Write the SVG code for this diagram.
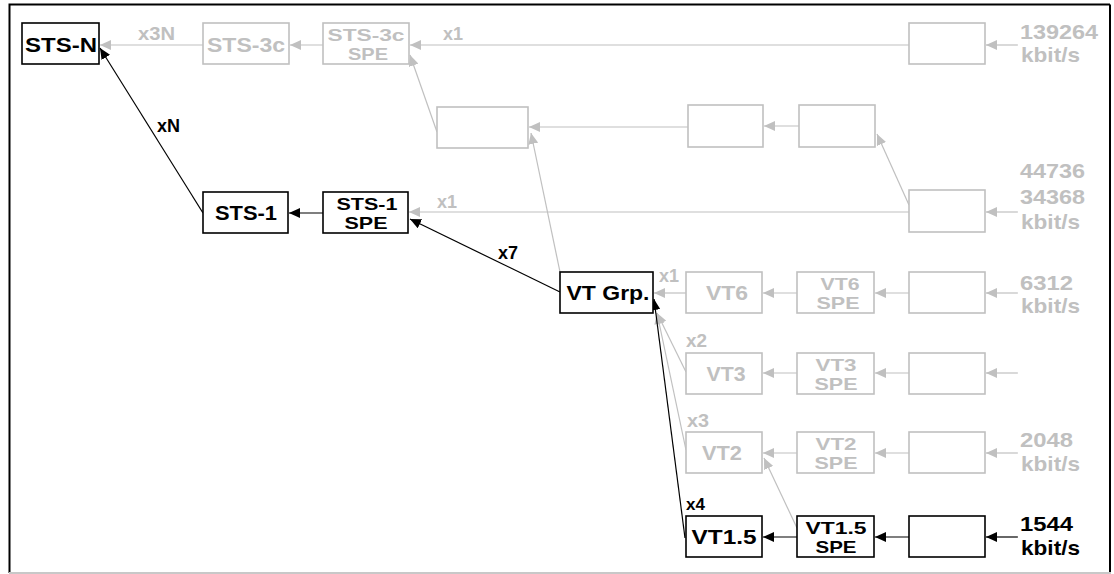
<svg xmlns="http://www.w3.org/2000/svg" width="1114" height="574" viewBox="0 0 1114 574">
<style>
text{font-family:"Liberation Sans",Arial,sans-serif;font-weight:bold}
.bk rect{fill:#fff;stroke:#000;stroke-width:1.6}
.gy rect{fill:#fff;stroke:#c0c0c0;stroke-width:1.6}
.bk text{fill:#000}
.gy text{fill:#c0c0c0}
.n{font-size:21px;text-anchor:middle}
.n2{font-size:16.5px;text-anchor:middle}
.m{font-size:18px}
.r{font-size:21px}
.cg{stroke:#c0c0c0;stroke-width:1.2;fill:none;marker-end:url(#ag)}
.cb{stroke:#000;stroke-width:1.2;fill:none;marker-end:url(#ab)}
</style>
<defs>
<marker id="ag" viewBox="0 0 11 10" refX="11" refY="5" markerWidth="11" markerHeight="10" markerUnits="userSpaceOnUse" orient="auto"><path d="M0,0 L11,5 L0,10 z" fill="#c0c0c0"/></marker>
<marker id="ab" viewBox="0 0 11 10" refX="11" refY="5" markerWidth="11" markerHeight="10" markerUnits="userSpaceOnUse" orient="auto"><path d="M0,0 L11,5 L0,10 z" fill="#000"/></marker>
</defs>
<rect x="0" y="0" width="1114" height="574" fill="#fff"/>
<path d="M9.5,573 V4.5 H1110" fill="none" stroke="#000" stroke-width="2"/>
<path d="M1110,4.5 V573" fill="none" stroke="#000" stroke-width="2"/>
<path d="M9,573 H1111" fill="none" stroke="#c8c8c8" stroke-width="2"/>

<g id="connectors">
<path class="cg" d="M203,45 L100,45"/>
<path class="cg" d="M323,45 L290,45"/>
<path class="cg" d="M909,45 L410,45"/>
<path class="cg" d="M1018,45 L986,45"/>
<path class="cg" d="M799,126 L764,126"/>
<path class="cg" d="M688,127 L529,127"/>
<path class="cg" d="M437,132 L410,55"/>
<path class="cg" d="M909,205 L877,134"/>
<path class="cg" d="M560,272 L531,133"/>
<path class="cg" d="M909,212 L409,212"/>
<path class="cg" d="M1018,212 L986,212"/>
<path class="cg" d="M686,293 L654,293"/>
<path class="cg" d="M797,293 L763,293"/>
<path class="cg" d="M909,293 L875,293"/>
<path class="cg" d="M1018,293 L986,293"/>
<path class="cg" d="M686,372 L657,313"/>
<path class="cg" d="M797,373 L763,373"/>
<path class="cg" d="M909,373 L875,373"/>
<path class="cg" d="M1018,373 L986,373"/>
<path class="cg" d="M686,450 L657,313"/>
<path class="cg" d="M797,453 L763,453"/>
<path class="cg" d="M909,453 L875,453"/>
<path class="cg" d="M1018,453 L986,453"/>
<path class="cg" d="M797,528 L764,458"/>
<path class="cb" d="M203,213 L100,48"/>
<path class="cb" d="M323,213 L289,213"/>
<path class="cb" d="M560,292 L410,219"/>
<path class="cb" d="M685,538 L654,299" stroke-width="2"/>
<path class="cb" d="M797,537 L763,537"/>
<path class="cb" d="M909,537 L875,537"/>
<path class="cb" d="M1018,537 L986,537"/>
</g>

<g id="labels">
<text class="m" x="138" y="40" fill="#c0c0c0" textLength="37" lengthAdjust="spacingAndGlyphs">x3N</text>
<text class="m" x="443" y="40" fill="#c0c0c0" textLength="20" lengthAdjust="spacingAndGlyphs">x1</text>
<text x="157" y="132" font-size="18" fill="#000">xN</text>
<text class="m" x="437" y="208" fill="#c0c0c0" textLength="20" lengthAdjust="spacingAndGlyphs">x1</text>
<text x="498" y="259" font-size="18" fill="#000">x7</text>
<text class="m" x="659" y="282" fill="#c0c0c0" textLength="20" lengthAdjust="spacingAndGlyphs">x1</text>
<text class="m" x="686" y="347" fill="#c0c0c0" textLength="21" lengthAdjust="spacingAndGlyphs">x2</text>
<text class="m" x="687" y="427" fill="#c0c0c0" textLength="22" lengthAdjust="spacingAndGlyphs">x3</text>
<text x="686" y="510" font-size="17" fill="#000">x4</text>
<text class="r" x="1020" y="39" fill="#c0c0c0" textLength="78" lengthAdjust="spacingAndGlyphs">139264</text>
<text class="r" x="1021" y="62" fill="#c0c0c0" textLength="59" lengthAdjust="spacingAndGlyphs">kbit/s</text>
<text class="r" x="1020" y="178" fill="#c0c0c0" textLength="65" lengthAdjust="spacingAndGlyphs">44736</text>
<text class="r" x="1020" y="204" fill="#c0c0c0" textLength="65" lengthAdjust="spacingAndGlyphs">34368</text>
<text class="r" x="1021" y="229" fill="#c0c0c0" textLength="59" lengthAdjust="spacingAndGlyphs">kbit/s</text>
<text class="r" x="1020" y="290" fill="#c0c0c0" textLength="53" lengthAdjust="spacingAndGlyphs">6312</text>
<text class="r" x="1021" y="313" fill="#c0c0c0" textLength="59" lengthAdjust="spacingAndGlyphs">kbit/s</text>
<text class="r" x="1020" y="447" fill="#c0c0c0" textLength="53" lengthAdjust="spacingAndGlyphs">2048</text>
<text class="r" x="1021" y="471" fill="#c0c0c0" textLength="59" lengthAdjust="spacingAndGlyphs">kbit/s</text>
<text class="r" x="1020" y="531" fill="#000" textLength="53" lengthAdjust="spacingAndGlyphs">1544</text>
<text class="r" x="1021" y="555" fill="#000" textLength="59" lengthAdjust="spacingAndGlyphs">kbit/s</text>
</g>

<g id="sts-n" class="bk"><rect x="22" y="23" width="77" height="41"/><text class="n" x="61" y="52" textLength="72" lengthAdjust="spacingAndGlyphs">STS-N</text></g>
<g id="sts-3c" class="gy"><rect x="203" y="23" width="86" height="41"/><text class="n" x="246" y="52" textLength="78" lengthAdjust="spacingAndGlyphs">STS-3c</text></g>
<g id="sts-3c-spe" class="gy"><rect x="323" y="23" width="86" height="41"/><text class="n2" x="366" y="41" textLength="77" lengthAdjust="spacingAndGlyphs">STS-3c</text><text class="n2" x="368" y="60" textLength="40" lengthAdjust="spacingAndGlyphs">SPE</text></g>
<g id="in-139264" class="gy"><rect x="909" y="23" width="76" height="41"/></g>
<g id="c4-container" class="gy"><rect x="437" y="107" width="91" height="41"/></g>
<g id="c4-b" class="gy"><rect x="688" y="105" width="75" height="42"/></g>
<g id="c4-c" class="gy"><rect x="799" y="105" width="76" height="42"/></g>
<g id="sts-1" class="bk"><rect x="203" y="192" width="85" height="41"/><text class="n" x="246" y="220" textLength="62" lengthAdjust="spacingAndGlyphs">STS-1</text></g>
<g id="sts-1-spe" class="bk"><rect x="323" y="192" width="85" height="41"/><text class="n2" x="367" y="210" textLength="61" lengthAdjust="spacingAndGlyphs">STS-1</text><text class="n2" x="366" y="229" textLength="43" lengthAdjust="spacingAndGlyphs">SPE</text></g>
<g id="in-44736" class="gy"><rect x="909" y="190" width="76" height="42"/></g>
<g id="vt-grp" class="bk"><rect x="560" y="272" width="93" height="41"/><text class="n" x="608" y="300" textLength="83" lengthAdjust="spacingAndGlyphs">VT Grp.</text></g>
<g id="vt6" class="gy"><rect x="686" y="272" width="76" height="41"/><text class="n" x="727" y="300" textLength="42" lengthAdjust="spacingAndGlyphs">VT6</text></g>
<g id="vt6-spe" class="gy"><rect x="797" y="272" width="77" height="41"/><text class="n2" x="840" y="290" textLength="39" lengthAdjust="spacingAndGlyphs">VT6</text><text class="n2" x="838" y="309" textLength="43" lengthAdjust="spacingAndGlyphs">SPE</text></g>
<g id="in-6312" class="gy"><rect x="909" y="272" width="76" height="41"/></g>
<g id="vt3" class="gy"><rect x="686" y="353" width="76" height="41"/><text class="n" x="726" y="381" textLength="39" lengthAdjust="spacingAndGlyphs">VT3</text></g>
<g id="vt3-spe" class="gy"><rect x="797" y="353" width="77" height="41"/><text class="n2" x="836" y="371" textLength="41" lengthAdjust="spacingAndGlyphs">VT3</text><text class="n2" x="836" y="390" textLength="43" lengthAdjust="spacingAndGlyphs">SPE</text></g>
<g id="in-vt3" class="gy"><rect x="909" y="353" width="76" height="41"/></g>
<g id="vt2" class="gy"><rect x="686" y="432" width="76" height="41"/><text class="n" x="722" y="460" textLength="40" lengthAdjust="spacingAndGlyphs">VT2</text></g>
<g id="vt2-spe" class="gy"><rect x="797" y="432" width="77" height="41"/><text class="n2" x="836" y="450" textLength="41" lengthAdjust="spacingAndGlyphs">VT2</text><text class="n2" x="836" y="469" textLength="43" lengthAdjust="spacingAndGlyphs">SPE</text></g>
<g id="in-2048" class="gy"><rect x="909" y="432" width="76" height="41"/></g>
<g id="vt1-5" class="bk"><rect x="686" y="516" width="76" height="41"/><text class="n" x="724" y="544" textLength="65" lengthAdjust="spacingAndGlyphs">VT1.5</text></g>
<g id="vt1-5-spe" class="bk"><rect x="797" y="516" width="77" height="41"/><text class="n2" x="836" y="534" textLength="61" lengthAdjust="spacingAndGlyphs">VT1.5</text><text class="n2" x="836" y="553" textLength="41" lengthAdjust="spacingAndGlyphs">SPE</text></g>
<g id="in-1544" class="bk"><rect x="909" y="516" width="76" height="41"/></g>
</svg>
